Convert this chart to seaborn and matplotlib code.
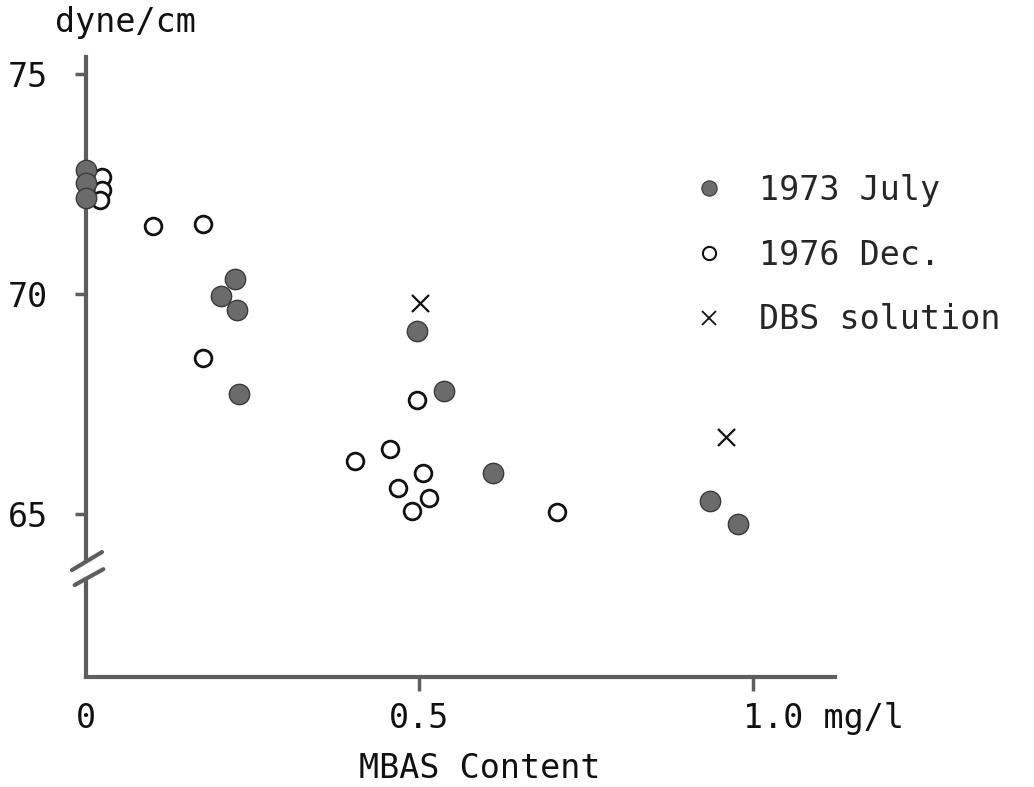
import matplotlib
matplotlib.use("Agg")
import matplotlib.pyplot as plt
import matplotlib.transforms as mtransforms
from matplotlib.lines import Line2D
import pandas as pd
import seaborn as sns

# ---- data ----
july_x = [0.0, 0.0, 0.0, 0.223, 0.202, 0.226, 0.229, 0.496, 0.537, 0.610, 0.936, 0.978]
july_y = [72.82, 72.52, 72.18, 70.34, 69.95, 69.64, 67.73, 69.16, 67.80, 65.93, 65.30, 64.77]
dec_x = [0.024, 0.024, 0.021, 0.100, 0.175, 0.175, 0.496, 0.456, 0.403, 0.505, 0.468, 0.514, 0.489, 0.706]
dec_y = [72.66, 72.36, 72.14, 71.55, 71.59, 68.55, 67.59, 66.48, 66.20, 65.93, 65.59, 65.36, 65.07, 65.05]
dbs_x = [0.501, 0.960]
dbs_y = [69.80, 66.75]
series = ["1973 July", "1976 Dec.", "DBS solution"]
xticks = [0, 0.5, 1.0]
xticklabels = ["0", "0.5", "1.0 mg/l"]
yticks = [65, 70, 75]
ylabel = "dyne/cm"
xlabel = "MBAS Content"

sns.set_style("white")
plt.rcParams["font.family"] = ["DejaVu Sans Mono", "DejaVu Sans"]
FS = 24
AX = "#5e5e5e"

fig = plt.figure(figsize=(10.34, 7.87), dpi=100)
ax = fig.add_axes([86 / 1034, 1 - 677 / 787, (835 - 86) / 1034, (677 - 57) / 787])

ymin, ymax = 61.30, 75.39
ax.set_xlim(0, 1.123)
ax.set_ylim(ymin, ymax)

df_j = pd.DataFrame({"x": july_x, "y": july_y})
df_d = pd.DataFrame({"x": dec_x, "y": dec_y})
df_b = pd.DataFrame({"x": dbs_x, "y": dbs_y})

sns.scatterplot(data=df_d, x="x", y="y", ax=ax, marker="o", s=145, facecolor="white",
                edgecolor="#111111", linewidth=2.0, clip_on=False, zorder=5, legend=False)
sns.scatterplot(data=df_j, x="x", y="y", ax=ax, marker="o", s=215, color="#6b6b6b",
                edgecolor="#3a3a3a", linewidth=1.0, clip_on=False, zorder=6, legend=False)
sns.scatterplot(data=df_b, x="x", y="y", ax=ax, marker="x", s=150, color="#111111",
                linewidth=1.6, clip_on=False, zorder=6, legend=False)

# spines / axis break
for s in ["top", "right"]:
    ax.spines[s].set_visible(False)
for s in ["left", "bottom"]:
    ax.spines[s].set_color(AX)
    ax.spines[s].set_linewidth(3)
ax.spines["left"].set_bounds(63.95, ymax)
ax.plot([0, 0], [ymin, 63.57], color=AX, lw=3, clip_on=False, solid_capstyle="butt", zorder=3)
ax.plot([-0.021, 0.024], [63.73, 64.14], color=AX, lw=3, clip_on=False, solid_capstyle="round", zorder=3)
ax.plot([-0.017, 0.026], [63.39, 63.75], color=AX, lw=3, clip_on=False, solid_capstyle="round", zorder=3)

ax.set_yticks(yticks)
ax.set_yticklabels([str(v) for v in yticks])
ax.set_xticks(xticks)
ax.set_xticklabels(xticklabels)
ax.tick_params(axis="y", direction="out", length=8, width=2.5, color=AX, pad=19,
               labelsize=FS, labelcolor="#111111", left=True)
ax.tick_params(axis="x", direction="out", length=10, width=2.5, color=AX, pad=8,
               labelsize=FS, labelcolor="#111111", bottom=True)
ax.xaxis.get_major_ticks()[0].tick1line.set_visible(False)
lbl = ax.get_xticklabels()[2]
lbl.set_horizontalalignment("left")
lbl.set_transform(lbl.get_transform() + mtransforms.ScaledTranslation(-0.10, 0, fig.dpi_scale_trans))
ax.set_xlabel("")
ax.set_ylabel("")
ax.grid(False)

fig.text(55 / 1034, 1 - 32 / 787, ylabel, fontsize=FS, ha="left", va="baseline", color="#111111")
fig.text(480 / 1034, 1 - 778 / 787, xlabel, fontsize=FS, ha="center", va="baseline", color="#111111")

handles = [
    Line2D([], [], ls="none", marker="o", ms=11, mfc="#6b6b6b", mec="#3a3a3a", mew=0.8),
    Line2D([], [], ls="none", marker="o", ms=9.5, mfc="white", mec="#111111", mew=1.5),
    Line2D([], [], ls="none", marker="x", ms=9.5, mec="#111111", mew=1.3),
]
fig.legend(handles, series, loc="upper left", bbox_to_anchor=(692 / 1034, 1 - 174 / 787),
           frameon=False, fontsize=FS, borderpad=0, handlelength=1.0, handletextpad=1.0,
           labelspacing=0.95, borderaxespad=0)

fig.savefig("out.png", dpi=100)
